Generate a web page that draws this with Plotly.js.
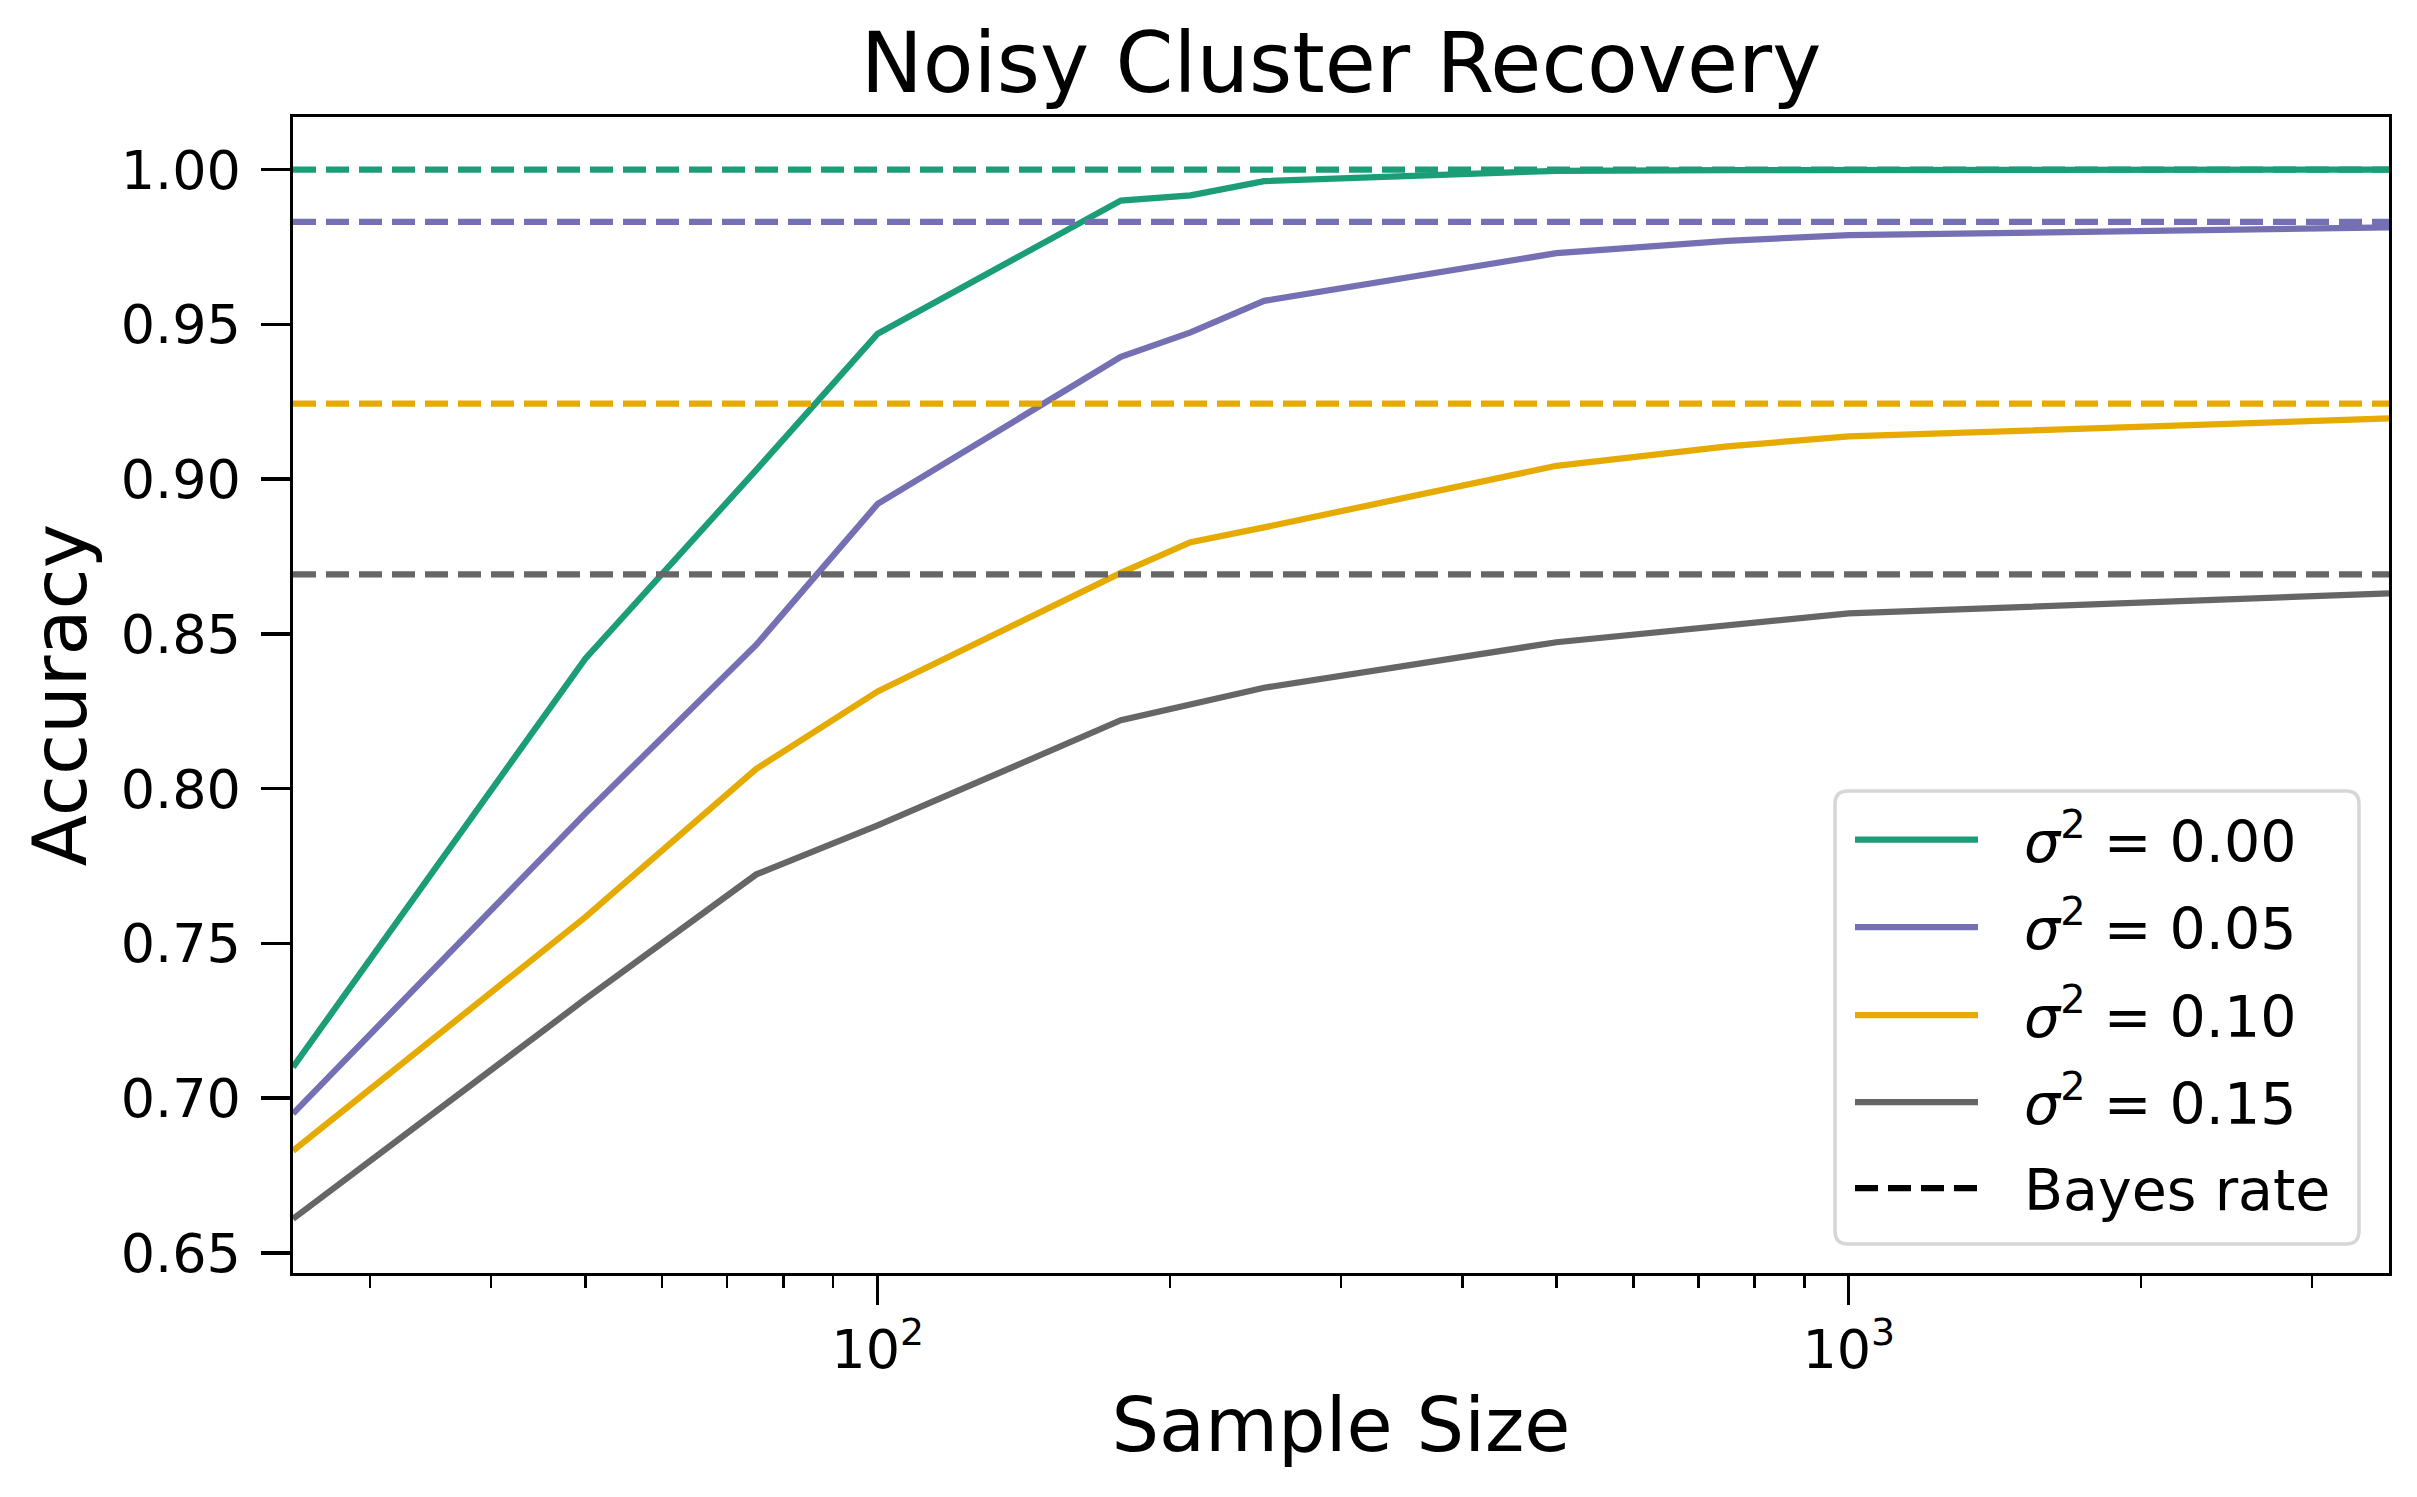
<!DOCTYPE html>
<html>
<head>
<meta charset="utf-8">
<script src="https://cdn.plot.ly/plotly-3.0.1.min.js"></script>
<style>
  html, body { margin: 0; padding: 0; background: #ffffff; }
  #chart { width: 2417px; height: 1497px; }
</style>
</head>
<body>
<div id="chart"></div>
<script>
// ---------------- data ----------------
const sampleSizes = [25, 50, 75, 100, 178, 210, 250, 500, 750, 1000, 3600];
const acc000 = [0.710, 0.842, 0.903, 0.947, 0.990, 0.9917, 0.9963, 0.9996, 0.9998, 0.9999, 1.000];
const acc005 = [0.695, 0.792, 0.8465, 0.892, 0.9395, 0.9474, 0.9576, 0.973, 0.977, 0.9788, 0.9813];
const acc010 = [0.683, 0.7585, 0.8064, 0.8314, 0.8697, 0.8796, 0.8844, 0.9043, 0.9106, 0.9138, 0.9196];
const acc015 = [0.661, 0.732, 0.7723, 0.7881, 0.8221, 0.8272, 0.8326, 0.8473, 0.853, 0.8566, 0.8631];
const bayesRates = [1.000, 0.9831, 0.9244, 0.8692];
const seriesNames = ["<i>σ</i><sup>2</sup> = 0.00", "<i>σ</i><sup>2</sup> = 0.05", "<i>σ</i><sup>2</sup> = 0.10", "<i>σ</i><sup>2</sup> = 0.15"];
const bayesName = "Bayes rate";
const yTickVals = [0.65, 0.70, 0.75, 0.80, 0.85, 0.90, 0.95, 1.00];
const xTickVals = [100, 1000];
const xTickText = ["10<sup>2</sup>", "10<sup>3</sup>"];
const xMinorTicks = [30, 40, 50, 60, 70, 80, 90, 200, 300, 400, 500, 600, 700, 800, 900, 2000, 3000];

// ---------------- style ----------------
const colors = ["#1b9e77", "#7570b3", "#e6ab02", "#666666"];
const FONT = "DejaVu Sans, Liberation Sans, sans-serif";
const W = 2417, H = 1497;
const M = { l: 293, r: 28, t: 117, b: 224 };
const PW = W - M.l - M.r, PH = H - M.t - M.b;
const LW = 6.25;
const DASH = "23px,10px";
const TICKFONT = 54;

const series = [acc000, acc005, acc010, acc015];
const xEnds = [sampleSizes[0], sampleSizes[sampleSizes.length - 1]];

const traces = [];
series.forEach((ys, i) => {
  traces.push({
    x: sampleSizes, y: ys, type: "scatter", mode: "lines",
    line: { color: colors[i], width: LW }, name: seriesNames[i], showlegend: false,
    hoverinfo: "skip"
  });
});
bayesRates.forEach((b, i) => {
  traces.push({
    x: xEnds, y: [b, b], type: "scatter", mode: "lines",
    line: { color: colors[i], width: LW, dash: DASH }, name: bayesName, showlegend: false,
    hoverinfo: "skip"
  });
});

// helpers: pixel -> paper
const px = v => (v - M.l) / PW;
const py = v => (H - M.b - v) / PH;

// custom legend (matplotlib style)
const shapes = [];
const annotations = [];
const box = { x0: 1835, x1: 2359, y0: 791, y1: 1244, r: 13 };
{
  const rx = box.r / PW, ry = box.r / PH;
  const X0 = px(box.x0), X1 = px(box.x1), Y0 = py(box.y1), Y1 = py(box.y0);
  const path = `M ${X0 + rx},${Y0} L ${X1 - rx},${Y0} Q ${X1},${Y0} ${X1},${Y0 + ry} ` +
    `L ${X1},${Y1 - ry} Q ${X1},${Y1} ${X1 - rx},${Y1} L ${X0 + rx},${Y1} Q ${X0},${Y1} ${X0},${Y1 - ry} ` +
    `L ${X0},${Y0 + ry} Q ${X0},${Y0} ${X0 + rx},${Y0} Z`;
  shapes.push({ type: "path", xref: "paper", yref: "paper", path: path,
    line: { color: "#d6d6d6", width: 3.5 }, fillcolor: "rgba(255,255,255,0.8)", layer: "above" });
}
const rowY = [839.5, 927, 1015, 1102, 1188];
const legendLabels = seriesNames.concat([bayesName]);
const legendColors = colors.concat(["#000000"]);
legendLabels.forEach((lab, i) => {
  const isBayes = i === legendLabels.length - 1;
  shapes.push({ type: "line", xref: "paper", yref: "paper",
    x0: px(1855), x1: px(1978), y0: py(rowY[i]), y1: py(rowY[i]),
    line: { color: legendColors[i], width: LW, dash: isBayes ? DASH : "solid" }, layer: "above" });
  annotations.push({ xref: "paper", yref: "paper", x: px(2022), y: py(rowY[i] + (isBayes ? 2 : -2)),
    xanchor: "left", yanchor: "middle", text: lab, showarrow: false,
    font: { family: FONT, size: 57, color: "#000000" } });
});

const axisCommon = {
  showline: true, mirror: true, linecolor: "#000000", linewidth: 3.3,
  showgrid: false, zeroline: false,
  ticks: "outside", ticklen: 29, tickwidth: 3.3, tickcolor: "#000000",
  tickfont: { family: FONT, size: TICKFONT, color: "#000000" }
};

const layout = {
  width: W, height: H,
  margin: M,
  paper_bgcolor: "#ffffff", plot_bgcolor: "#ffffff",
  font: { family: FONT, color: "#000000" },
  showlegend: false,
  title: {
    text: "Noisy Cluster Recovery",
    font: { family: FONT, size: 83, color: "#000000" },
    x: (M.l + PW / 2) / W, xanchor: "center", xref: "container",
    y: 1 - 63 / H, yanchor: "middle", yref: "container"
  },
  xaxis: Object.assign({}, axisCommon, {
    type: "log",
    range: [Math.log10(xEnds[0]), Math.log10(xEnds[1])],
    tickmode: "array", tickvals: xTickVals, ticktext: xTickText,
    ticklabelstandoff: -2,
    minor: { tickmode: "array", tickvals: xMinorTicks, ticks: "outside", ticklen: 12, tickwidth: 2.5, tickcolor: "#000000", showgrid: false },
    title: { text: "Sample Size", font: { family: FONT, size: 75, color: "#000000" }, standoff: 19 }
  }),
  yaxis: Object.assign({}, axisCommon, {
    range: [0.6435, 1.0170],
    tickmode: "array", tickvals: yTickVals, ticktext: yTickVals.map(v => v.toFixed(2)),
    ticklabelstandoff: 9,
    title: { text: "Accuracy", font: { family: FONT, size: 75, color: "#000000" }, standoff: 10 }
  }),
  shapes: shapes,
  annotations: annotations
};

Plotly.newPlot("chart", traces, layout, { staticPlot: true, displayModeBar: false });
</script>
</body>
</html>
